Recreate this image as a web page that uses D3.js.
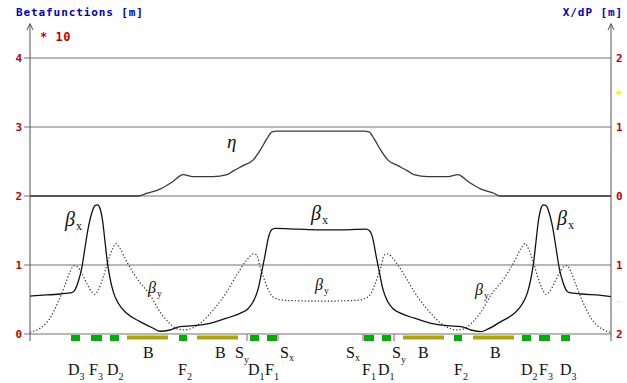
<!DOCTYPE html>
<html>
<head>
<meta charset="utf-8">
<script src="https://cdn.jsdelivr.net/npm/d3@7"></script>
<style>
body { margin: 0; background: #fff; }
svg { display: block; }
</style>
</head>
<body>
<svg id="chart" width="627" height="383"></svg>
<script>
// s in metres along the cell, beta in metres, eta (dispersion) in metres
const sBetaX = [0, 1, 3, 4.17, 4.5, 4.83, 5.17, 5.5, 5.83, 6.17, 6.5, 6.77, 7.0, 7.27, 7.5, 7.73, 8.0, 8.33, 8.83, 9.67,
    11.0, 12.33, 13.0, 14.0, 15.0, 16.33, 18.0, 19.67, 21.0, 21.83, 22.33, 22.83, 23.17, 23.5, 23.83, 24.17, 24.5,
    26.67, 29.05, 31.43, 33.6, 33.93, 34.27, 34.6, 34.93, 35.27, 35.77, 36.27, 37.1, 38.43, 40.1, 41.77, 43.1,
    44.1, 45.1, 45.77, 47.1, 48.43, 49.27, 49.77, 50.1, 50.37, 50.6, 50.83, 51.1, 51.33, 51.6, 51.93, 52.27,
    52.6, 52.93, 53.27, 53.6, 53.93, 55.1, 57.1, 58.1];
const betaX = [5.5, 5.6, 5.8, 6.0, 6.4, 7.6, 9.5, 12.5, 15.4, 17.5, 18.6, 18.7, 18.2, 16.3, 13.4, 10.5, 8.1, 6.1, 4.45, 3.0,
    1.8, 0.83, 0.4, 0.58, 1.06, 1.2, 1.55, 2.3, 3.0, 3.7, 4.7, 6.6, 9.0, 11.4, 13.9, 15.1, 15.3,
    15.2, 15.1, 15.1, 15.2, 15.0, 13.9, 11.4, 9.0, 6.6, 4.7, 3.7, 3.0, 2.3, 1.55, 1.2, 1.06,
    0.58, 0.35, 0.7, 1.8, 3.0, 4.45, 6.1, 8.1, 10.5, 13.4, 16.3, 18.2, 18.7, 18.6, 17.5, 15.4,
    12.5, 9.5, 7.6, 6.4, 6.0, 5.8, 5.6, 5.4];

const sBetaY = [0, 1.0, 2.0, 2.83, 3.5, 4.0, 4.4, 4.73, 5.17, 5.67, 6.17, 6.5, 6.83, 7.33, 7.83, 8.27, 8.6, 9.0, 9.67,
    10.67, 12.0, 13.0, 14.0, 14.8, 15.5, 17.0, 18.33, 19.67, 20.67, 21.67, 22.33, 22.67, 23.0, 23.5, 24.0, 24.5,
    25.33, 27.0, 29.05, 31.1, 32.77, 33.6, 34.1, 34.6, 35.1, 35.43, 35.77, 36.43, 37.43, 38.43, 39.77, 41.1,
    42.6, 43.3, 44.1, 45.1, 46.1, 47.43, 48.43, 49.1, 49.5, 49.83, 50.27, 50.77, 51.27, 51.6, 51.93, 52.43,
    52.93, 53.37, 53.7, 54.1, 54.6, 55.27, 56.1, 57.1, 58.1];
const betaY = [0.25, 0.83, 2.3, 4.7, 7.1, 9.0, 9.9, 9.75, 8.8, 7.35, 6.1, 5.75, 6.4, 8.3, 10.7, 12.4, 13.1, 12.4, 10.5,
    8.1, 5.65, 3.2, 1.5, 0.7, 0.6, 1.55, 3.5, 6.1, 8.55, 10.7, 11.6, 11.45, 9.75, 7.6, 5.9, 5.2,
    4.9, 4.8, 4.75, 4.8, 4.9, 5.2, 5.9, 7.6, 9.75, 11.45, 11.6, 10.7, 8.55, 6.1, 3.5, 1.55,
    0.6, 0.7, 1.5, 3.2, 5.65, 8.1, 10.5, 12.4, 13.1, 12.4, 10.7, 8.3, 6.4, 5.75, 6.1, 7.35,
    8.8, 9.75, 9.9, 9.0, 7.1, 4.7, 2.3, 0.83, 0.2];

const sEta = [0, 10.8, 11.7, 13.0, 14.3, 15.3, 16.3, 18.3, 19.7, 20.3, 21.3, 22.3, 23.0, 23.7, 24.2, 24.7, 29.05,
    33.4, 33.9, 34.4, 35.1, 35.8, 36.8, 37.8, 38.4, 39.8, 41.8, 42.8, 43.8, 45.1, 46.4, 47.0, 58.1];
const eta = [0, 0, 0.04, 0.10, 0.21, 0.31, 0.28, 0.28, 0.31, 0.36, 0.44, 0.52, 0.66, 0.83, 0.93, 0.94, 0.94,
    0.94, 0.93, 0.83, 0.66, 0.52, 0.44, 0.36, 0.31, 0.28, 0.28, 0.31, 0.21, 0.10, 0.04, 0, 0];

// lattice elements: D/F quadrupoles, B bends, S sextupole markers
const elemType = ["D", "F", "D", "B", "F", "B", "S", "D", "F", "S", "S", "F", "D", "S", "B", "F", "B", "D", "F", "D"];
const elemStart = [4.1, 6.1, 8.0, 9.7, 14.9, 16.7, 21.7, 22.0, 23.7, 24.8, 33.3, 33.4, 35.2, 36.4, 37.3, 42.4, 44.3, 49.2, 50.9, 53.1];
const elemEnd = [5.0, 7.2, 8.9, 13.8, 15.7, 20.8, 21.7, 22.9, 24.7, 24.8, 33.3, 34.4, 36.1, 36.4, 41.4, 43.2, 48.4, 50.1, 52.0, 54.0];

// element names under the lattice
const labelMain = ["D", "F", "D", "B", "F", "B", "S", "D", "F", "S", "S", "F", "D", "S", "B", "F", "B", "D", "F", "D"];
const labelSub = ["3", "3", "2", "", "2", "", "y", "1", "1", "x", "x", "1", "1", "y", "", "2", "", "2", "3", "3"];
const labelS = [3.8, 5.9, 7.7, 11.3, 14.8, 18.5, 20.5, 21.8, 23.5, 25.0, 31.6, 33.2, 34.8, 36.2, 38.8, 42.4, 46.0, 49.1, 50.9, 53.0];

const leftTicks = [0, 10, 20, 30, 40];
const rightTicks = [-2, -1, 0, 1, 2];

const svg = d3.select("#chart");
const W = 627, H = 383;

const x = d3.scaleLinear().domain([0, 58.1]).range([30, 611]);
const yL = d3.scaleLinear().domain([0, 45]).range([334, 23.5]);
const yR = d3.scaleLinear().domain([-2, 2.5]).range([334, 23.5]);

svg.append("rect").attr("width", W).attr("height", H).attr("fill", "#fff");

// gridlines
svg.append("g").selectAll("line")
    .data(leftTicks)
    .enter()
    .append("line")
    .attr("x1", 24).attr("x2", 611)
    .attr("y1", d => yL(d)).attr("y2", d => yL(d))
    .attr("stroke", "#a0a0a0")
    .attr("stroke-width", 1.6);

// curves
const line = (xs, ys, sc) => d3.line()
    .x((d, i) => x(xs[i]))
    .y((d, i) => sc(ys[i]))
    .curve(d3.curveMonotoneX)(ys);

svg.append("path")
    .attr("d", line(sEta, eta, yR))
    .attr("fill", "none")
    .attr("stroke", "#383838")
    .attr("stroke-width", 1.3);

svg.append("path")
    .attr("d", line(sBetaY, betaY, yL))
    .attr("fill", "none")
    .attr("stroke", "#333")
    .attr("stroke-width", 1.2)
    .attr("stroke-dasharray", "1.3,2");

svg.append("path")
    .attr("d", line(sBetaX, betaX, yL))
    .attr("fill", "none")
    .attr("stroke", "#111")
    .attr("stroke-width", 1.3);

// axes
const axisFont = "'DejaVu Sans Mono', monospace";
const left = svg.append("g")
    .attr("transform", "translate(30,0)")
    .call(d3.axisLeft(yL).tickValues(leftTicks).tickSize(0).tickPadding(8).tickFormat(d => d / 10));
const right = svg.append("g")
    .attr("transform", "translate(611,0)")
    .call(d3.axisRight(yR).tickValues(rightTicks).tickSize(0).tickPadding(5).tickFormat(d => Math.abs(d)));

[left, right].forEach(g => {
    g.select(".domain").remove();
    g.selectAll("text")
        .attr("fill", "#c00000")
        .style("font-family", axisFont)
        .style("font-weight", "bold")
        .style("font-size", "11px");
});

// vertical axis lines with arrow heads
[30, 611].forEach(ax => {
    svg.append("line")
        .attr("x1", ax).attr("x2", ax)
        .attr("y1", 24).attr("y2", 341)
        .attr("stroke", "#555").attr("stroke-width", 1);
    svg.append("path")
        .attr("d", `M${ax - 3},30L${ax},23.5L${ax + 3},30`)
        .attr("fill", "none").attr("stroke", "#555").attr("stroke-width", 1);
});

// sign markers on the dispersion axis
svg.append("text").attr("x", 619).attr("y", yR(1.5) + 3)
    .attr("text-anchor", "middle").attr("fill", "#f0f000")
    .style("font-family", axisFont).style("font-size", "10px").text("+");
svg.append("text").attr("x", 619).attr("y", yR(-1.5) + 4)
    .attr("text-anchor", "middle").attr("fill", "#f0f000")
    .style("font-family", axisFont).style("font-size", "10px").text("-");

// titles
svg.append("text").attr("x", 16).attr("y", 16)
    .attr("fill", "#0000b8")
    .style("font-family", axisFont).style("font-weight", "bold")
    .style("font-size", "11px").style("letter-spacing", "0.9px")
    .text("Betafunctions [m]");
svg.append("text").attr("x", 623).attr("y", 16)
    .attr("text-anchor", "end")
    .attr("fill", "#0000b8")
    .style("font-family", axisFont).style("font-weight", "bold")
    .style("font-size", "11px").style("letter-spacing", "0.9px")
    .text("X/dP [m]");
svg.append("text").attr("x", 40).attr("y", 41)
    .attr("fill", "#c00000")
    .style("font-family", axisFont).style("font-weight", "bold")
    .style("font-size", "12px").style("letter-spacing", "0.5px")
    .text("* 10");

// lattice elements
const elems = elemType.map((t, i) => ({ t: t, s0: elemStart[i], s1: elemEnd[i] }));
svg.append("g").selectAll("rect")
    .data(elems.filter(e => e.t !== "S"))
    .enter()
    .append("rect")
    .attr("x", d => x(d.s0))
    .attr("width", d => x(d.s1) - x(d.s0))
    .attr("y", d => d.t === "B" ? 335.5 : 335)
    .attr("height", d => d.t === "B" ? 4 : 6)
    .attr("fill", d => d.t === "B" ? "#b0a400" : "#00b000");
svg.append("g").selectAll("line")
    .data(elems.filter(e => e.t === "S"))
    .enter()
    .append("line")
    .attr("x1", d => x(d.s0)).attr("x2", d => x(d.s0))
    .attr("y1", 334).attr("y2", 341)
    .attr("stroke", "#d030d0").attr("stroke-width", 1);

// element labels
const serif = "'Liberation Serif', 'Times New Roman', serif";
labelMain.forEach((m, i) => {
    const upper = m === "B" || m === "S";
    const t = svg.append("text")
        .attr("x", x(labelS[i]))
        .attr("y", upper ? 358 : 375)
        .attr("fill", "#111")
        .style("font-family", serif)
        .style("font-size", "16px")
        .text(m);
    if (labelSub[i]) {
        t.append("tspan")
            .attr("dy", labelSub[i] === "y" ? 5 : (labelSub[i] === "x" ? 3 : 5))
            .style("font-size", "10px")
            .text(labelSub[i]);
    }
});

// curve labels
const curveLabels = [
    { g: "\u03b2", sub: "x", s: 3.5, v: 226, size: 20 },
    { g: "\u03b2", sub: "x", s: 28.1, v: 220, size: 20 },
    { g: "\u03b2", sub: "x", s: 52.7, v: 225, size: 20 },
    { g: "\u03b2", sub: "y", s: 11.8, v: 293, size: 16 },
    { g: "\u03b2", sub: "y", s: 28.5, v: 290, size: 16 },
    { g: "\u03b2", sub: "y", s: 44.5, v: 295, size: 16 },
    { g: "\u03b7", sub: "", s: 19.7, v: 148, size: 19 }
];
curveLabels.forEach(c => {
    const t = svg.append("text")
        .attr("x", x(c.s)).attr("y", c.v)
        .attr("fill", "#111")
        .style("font-family", serif)
        .style("font-style", "italic")
        .style("font-size", c.size + "px")
        .text(c.g);
    if (c.sub) {
        t.append("tspan")
            .attr("dy", 4).attr("dx", 1)
            .style("font-style", "normal")
            .style("font-size", (c.size * 0.6) + "px")
            .text(c.sub);
    }
});
</script>
</body>
</html>
